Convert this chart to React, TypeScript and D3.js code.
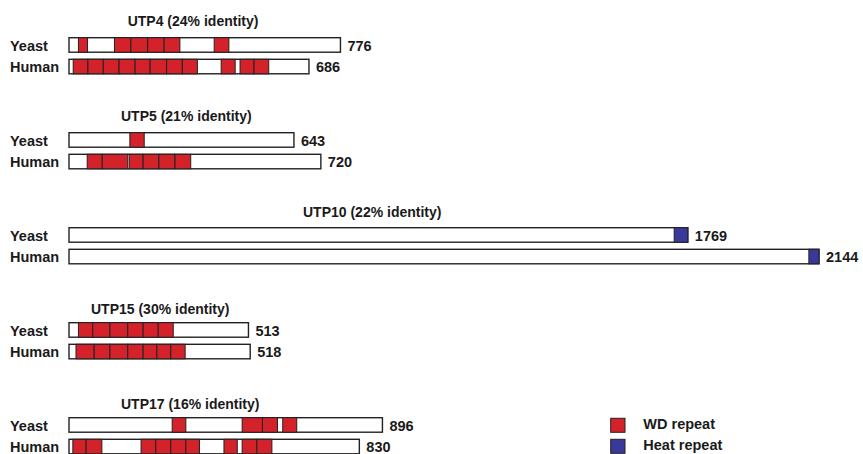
import React from "react";
import * as d3 from "d3";

const proteins = ["UTP4", "UTP5", "UTP10", "UTP15", "UTP17"];
const identity = [24, 21, 22, 30, 16];
const species = ["Yeast", "Human"];
const yeastLength = [776, 643, 1769, 513, 896];
const humanLength = [686, 720, 2144, 518, 830];

const yeastWD: [number, number][][] = [
  [[27, 53], [130, 177], [177, 225], [225, 272], [272, 317], [415, 457]],
  [[174, 215]],
  [],
  [[27, 68], [68, 117], [117, 168], [168, 212], [212, 255], [255, 298]],
  [[295, 334], [495, 553], [553, 596], [611, 651]],
];
const humanWD: [number, number][][] = [
  [[12, 54], [54, 98], [98, 143], [143, 189], [189, 232], [232, 279], [279, 324], [324, 367], [435, 475], [489, 529], [529, 571]],
  [[52, 95], [95, 168], [172, 212], [212, 257], [257, 303], [303, 348]],
  [],
  [[20, 72], [72, 117], [117, 168], [168, 212], [212, 251], [251, 291], [291, 332]],
  [[11, 49], [49, 94], [206, 248], [248, 291], [291, 334], [334, 373], [443, 481], [495, 537], [537, 580]],
];
const yeastHeat: [number, number][][] = [[], [], [[1730, 1769]], [], []];
const humanHeat: [number, number][][] = [[], [], [[2115, 2144]], [], []];

const legendLabels = ["WD repeat", "Heat repeat"];

// layout
const W = 863;
const H = 454;
const firstTop = 37.7;
const groupGap = 95;
const rowGap = 21.6;
const barH = 14.5;
const titleX = [127.7, 121, 303, 91, 121];
const titleDy = [-12, -11.6, -10.6, -9, -9];
const RED = "#d4222b";
const BLUE = "#39399c";
const STROKE = "#222";
const FONT = "'Liberation Sans', Arial, Helvetica, sans-serif";

export default function App() {
  const x = d3.scaleLinear().domain([0, 2144]).range([69, 819]);
  const wd = [yeastWD, humanWD];
  const heat = [yeastHeat, humanHeat];
  const lens = [yeastLength, humanLength];

  return (
    <svg
      width={W}
      height={H}
      style={{ position: "absolute", left: 0, top: 0, background: "#fff" }}
      fontFamily={FONT}
      fontWeight="bold"
    >
      {proteins.map((p, gi) => {
        const top = firstTop + gi * groupGap;
        return (
          <g key={p}>
            <text x={titleX[gi]} y={top + titleDy[gi]} fontSize={14} fill="#1a1a1a">
              {`${p} (${identity[gi]}% identity)`}
            </text>
            {species.map((s, si) => {
              const y = top + si * rowGap;
              const len = lens[si][gi];
              return (
                <g key={s}>
                  <text x={10} y={y + (si === 0 ? 13.5 : 12.5)} fontSize={14.5} fill="#1a1a1a">
                    {s}
                  </text>
                  <rect
                    x={x(0)}
                    y={y}
                    width={x(len) - x(0)}
                    height={barH}
                    fill="#fff"
                    stroke={STROKE}
                    strokeWidth={1.4}
                  />
                  {wd[si][gi].map(([a, b], k) => (
                    <rect
                      key={"w" + k}
                      x={x(a)}
                      y={y}
                      width={x(b) - x(a)}
                      height={barH}
                      fill={RED}
                      stroke={STROKE}
                      strokeWidth={1}
                    />
                  ))}
                  {heat[si][gi].map(([a, b], k) => (
                    <rect
                      key={"h" + k}
                      x={x(a)}
                      y={y}
                      width={x(b) - x(a)}
                      height={barH}
                      fill={BLUE}
                      stroke={STROKE}
                      strokeWidth={1}
                    />
                  ))}
                  <text x={x(len) + 7} y={y + 13} fontSize={14.5} fill="#1a1a1a">
                    {len}
                  </text>
                </g>
              );
            })}
          </g>
        );
      })}
      {legendLabels.map((l, i) => (
        <g key={l}>
          <rect
            x={610.7}
            y={418.3 + i * 21}
            width={14.3}
            height={14}
            fill={i === 0 ? RED : BLUE}
            stroke={STROKE}
            strokeWidth={1}
          />
          <text x={643.3} y={428.5 + i * 21.5} fontSize={14.5} fill="#1a1a1a">
            {l}
          </text>
        </g>
      ))}
    </svg>
  );
}
